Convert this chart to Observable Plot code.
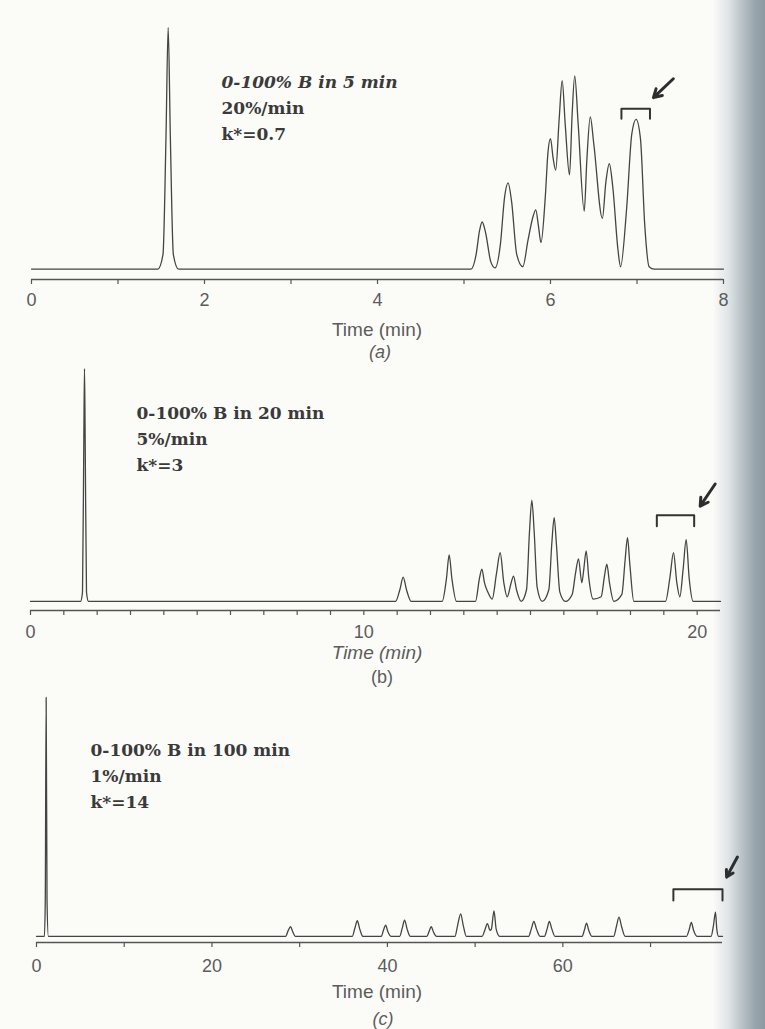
<!DOCTYPE html>
<html><head><meta charset="utf-8">
<script src="https://cdn.jsdelivr.net/npm/d3@7"></script>
<script src="https://cdn.jsdelivr.net/npm/@observablehq/plot@0.6"></script>
<style>
html,body{margin:0;padding:0;background:#fbfbf8;}
#page{position:relative;width:765px;height:1029px;overflow:hidden;background:#fbfbf8;}
.panel{position:absolute;left:0;}
.lbl{position:absolute;transform:translate(-50%,-50%);font-family:"Liberation Sans",Arial,sans-serif;font-size:19px;color:#5c5c5c;white-space:nowrap;}
#shade{position:absolute;top:0;right:0;width:52px;height:1029px;background:linear-gradient(to right, rgba(251,251,248,0) 0%, #dfe4e6 30%, #b3bdc3 60%, #97a3ab 82%, #8e9aa2 100%);}
</style></head><body><div id="page"><div id="shade"></div></div>
<script>
// ---- Panel (a): 0-100% B in 5 min ----
const traceA = [[0,0],[1.46,0],[1.52,6],[1.555,55],[1.58,100],[1.605,55],[1.64,6],[1.70,0],
 [4.95,0],[5.08,0],[5.14,6],[5.18,16],[5.21,19.5],[5.25,15],[5.31,3],[5.36,0.5],
 [5.42,10],[5.47,30],[5.51,35.7],[5.55,28],[5.61,6],[5.68,1],
 [5.74,12],[5.80,22],[5.83,24.5],[5.86,18],[5.89,11],
 [5.94,30],[5.97,48],[6.0,54],[6.03,46],[6.06,41],
 [6.10,62],[6.135,78],[6.17,60],[6.22,39],
 [6.25,64],[6.28,80],[6.32,60],[6.39,24],
 [6.42,45],[6.46,63],[6.50,52],[6.60,21],
 [6.64,36],[6.68,43.6],[6.72,34],[6.78,8],[6.81,1],
 [6.88,25],[6.94,56],[6.99,62],[7.04,54],[7.09,18],[7.14,1],[7.2,0],[8,0]];
const ticksA = [0,1,2,3,4,5,6,7,8];
const labelsA = [0,2,4,6,8];
const notesA = ["0-100% B in 5 min","20%/min","k*=0.7"];
const bracketA = [[6.82,62.2],[6.82,66.4],[7.15,66.4],[7.15,62.2]];
const arrowA = [[7.42,78.8,7.19,71]];

// ---- Panel (b): 0-100% B in 20 min ----
const traceB = [[0,0],[1.5,0],[1.56,4],[1.60,70],[1.62,100],[1.64,70],[1.68,4],[1.74,0],
 [10.95,0],[11.08,5],[11.18,10.4],[11.28,5],[11.42,0],
 [12.35,0],[12.48,10],[12.56,20],[12.64,10],[12.78,0],
 [13.35,0],[13.47,10],[13.54,13.9],[13.62,8],[13.72,4],[13.85,1],
 [13.98,12],[14.09,20.9],[14.2,8],[14.3,2],[14.42,8],[14.49,10.9],[14.58,5],[14.72,0],
 [14.88,5],[14.97,30],[15.04,43.5],[15.11,30],[15.2,6],[15.35,0],
 [15.55,5],[15.64,25],[15.71,36],[15.78,24],[15.88,4],[16.05,0],
 [16.25,3],[16.35,12],[16.44,18.3],[16.54,8],[16.6,14],[16.67,21.7],[16.75,10],[16.88,1],
 [17.12,2],[17.22,11],[17.29,16],[17.37,8],[17.5,0],
 [17.74,3],[17.84,18],[17.91,27.4],[17.98,16],[18.1,0],
 [19.05,0],[19.18,10],[19.29,20.9],[19.39,8],[19.48,2],[19.58,14],[19.67,26.5],[19.76,10],[19.88,0],[20.7,0]];
const ticksB = [0,1,2,3,4,5,6,7,8,9,10,11,12,13,14,15,16,17,18,19,20];
const labelsB = [0,10,20];
const notesB = ["0-100% B in 20 min","5%/min","k*=3"];
const bracketB = [[18.79,32.3],[18.79,37],[19.91,37],[19.91,32.3]];
const arrowB = [[20.54,50.4,20.09,40.9]];

// ---- Panel (c): 0-100% B in 100 min ----
const traceC = [[0,0],[0.9,0],[1.0,15],[1.1,100],[1.2,15],[1.35,0],
 [28.4,0],[28.7,2.5],[28.96,4],[29.2,2],[29.5,0],
 [36.0,0],[36.3,3.5],[36.57,6.5],[36.85,3],[37.2,0],
 [39.3,0],[39.55,2.5],[39.8,4.7],[40.05,2],[40.4,0],
 [41.4,0],[41.7,3.5],[41.96,6.8],[42.25,3],[42.6,0],
 [44.5,0],[44.75,2],[45.0,4],[45.25,1.8],[45.6,0],
 [47.7,0],[48.0,4.5],[48.35,9.4],[48.65,4.5],[49.0,0],
 [50.8,0],[51.1,2.5],[51.4,5.3],[51.7,2.5],[51.85,3],[52.15,10.6],[52.4,3],[52.8,0],
 [56.1,0],[56.4,3],[56.7,6.2],[57.0,3],[57.4,0],
 [57.9,0],[58.2,3],[58.46,6.2],[58.75,3],[59.1,0],
 [62.2,0],[62.45,2.5],[62.7,5.5],[62.95,2.5],[63.3,0],
 [65.8,0],[66.1,4],[66.4,8],[66.7,4],[67.1,0],
 [74.1,0],[74.4,2.8],[74.65,5.8],[74.9,2.5],[75.3,0],
 [76.9,0],[77.15,4],[77.4,10.1],[77.55,3],[77.75,0],[78.2,0]];
const ticksC = [0,10,20,30,40,50,60,70];
const labelsC = [0,20,40,60];
const notesC = ["0-100% B in 100 min","1%/min","k*=14"];
const bracketC = [[72.6,15],[72.6,19.7],[78.2,19.7],[78.2,15]];
const arrowC = [[79.9,33.2,78.67,24.8]];

const INK = "#444";
function panel(o) {
  const noteMarks = o.notes.map((s, i) => Plot.text([s], {
    text: d => d, frameAnchor: "top-left", textAnchor: "start", lineAnchor: "middle",
    dx: o.noteDx, dy: o.noteDy + i * 26,
    fontFamily: "'DejaVu Serif', 'Liberation Serif', serif", fontWeight: "bold",
    fontStyle: (i === 0 && o.italicFirst) ? "italic" : "normal",
    fontSize: 17, fill: "#3a3a3a"
  }));
  return Plot.plot({
    width: 765, height: o.height,
    marginTop: o.marginTop, marginBottom: o.marginBottom, marginLeft: o.marginLeft, marginRight: o.marginRight,
    x: {domain: o.xDomain, label: null},
    y: {domain: o.yDomain, axis: null},
    style: {background: "transparent", overflow: "visible"},
    marks: [
      Plot.ruleY([o.yDomain[0]], {stroke: "#555", strokeWidth: 1.3}),
      Plot.axisX({ticks: o.ticks, tickSize: 5, tickFormat: () => "", stroke: "#555", strokeWidth: 1.2, label: null}),
      Plot.axisX({ticks: o.labels, tickSize: 0, tickPadding: o.pad, fontSize: 18, fill: "#5c5c5c",
        fontFamily: "'Liberation Sans', Arial, sans-serif", label: null}),
      Plot.line(o.trace, {x: d => d[0], y: d => d[1], curve: "monotone-x", stroke: INK, strokeWidth: 1.3}),
      Plot.line(o.bracket, {x: d => d[0], y: d => d[1], stroke: "#333", strokeWidth: 2}),
      Plot.arrow(o.arrow, {x1: d => d[0], y1: d => d[1], x2: d => d[2], y2: d => d[3],
        stroke: "#2e2e2e", strokeWidth: 3, headLength: 9}),
      ...noteMarks
    ]
  });
}

const page = document.getElementById("page");
function place(svg, top) { svg.classList.add("panel"); svg.style.top = top + "px"; page.appendChild(svg); }
function label(text, x, y, italic, size) {
  const d = document.createElement("div"); d.className = "lbl"; d.textContent = text;
  d.style.left = x + "px"; d.style.top = y + "px"; if (italic) d.style.fontStyle = "italic";
  if (size) d.style.fontSize = size + "px";
  page.appendChild(d);
}

place(panel({height: 320, marginTop: 27, marginBottom: 41, marginLeft: 31, marginRight: 42,
  xDomain: [0, 8], yDomain: [-4.3, 100], trace: traceA, ticks: ticksA, labels: labelsA,
  notes: notesA, noteDx: 190, noteDy: 55, italicFirst: true, bracket: bracketA, arrow: arrowA, pad: 14}), 0);
place(panel({height: 310, marginTop: 28, marginBottom: 40, marginLeft: 30, marginRight: 45,
  xDomain: [0, 20.7], yDomain: [-3.9, 100], trace: traceB, ticks: ticksB, labels: labelsB,
  notes: notesB, noteDx: 106, noteDy: 45, italicFirst: false, bracket: bracketB, arrow: arrowB, pad: 15}), 340);
place(panel({height: 300, marginTop: 17, marginBottom: 38, marginLeft: 36, marginRight: 43,
  xDomain: [0, 78.2], yDomain: [-2.6, 100], trace: traceC, ticks: ticksC, labels: labelsC,
  notes: notesC, noteDx: 54, noteDy: 53, italicFirst: false, bracket: bracketC, arrow: arrowC, pad: 17}), 680);

label("Time (min)", 377, 330, false);
label("(a)", 380, 352, true, 18);
label("Time (min)", 377, 653, true);
label("(b)", 382, 677, false, 18);
label("Time (min)", 377, 992, false);
label("(c)", 383, 1019, true, 18);
</script></body></html>
